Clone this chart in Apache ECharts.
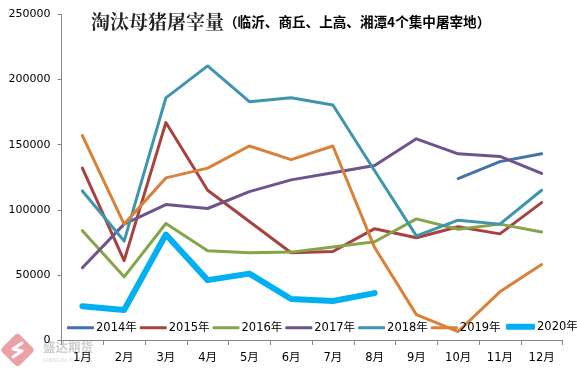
<!DOCTYPE html>
<html><head><meta charset="utf-8">
<style>html,body{margin:0;padding:0;background:#fff}#c{width:577px;height:374px}</style>
<script src="https://cdn.jsdelivr.net/npm/echarts@6/dist/echarts.min.js"></script>
</head><body><div id="c"></div>
<script>
const months = ['1月','2月','3月','4月','5月','6月','7月','8月','9月','10月','11月','12月'];
const y2014 = [null,null,null,null,null,null,null,null,null,124000,137000,143000];
const y2015 = [132000,61000,167000,115000,91000,67000,68000,85500,78500,87000,81500,105500];
const y2016 = [84000,48500,89500,68500,67000,67500,71500,75500,93000,85000,89000,83000];
const y2017 = [55500,89000,104000,101000,114000,123000,128500,134000,154500,143000,141000,128000];
const y2018 = [114500,76000,186000,210500,183000,186000,180500,130000,80000,92000,89000,115000];
const y2019 = [157000,89000,124500,132000,149000,138500,149000,71000,19500,6500,37000,58000];
const y2020 = [26000,23000,81000,46000,51000,31500,30000,36000,null,null,null,null];
const font = '"DejaVu Sans","Noto Sans CJK SC",sans-serif';
const mk = (name,data,color,w)=>({name,type:'line',data,symbol:'none',smooth:false,connectNulls:false,
  lineStyle:{color,width:w,cap:'round',join:'round'},itemStyle:{color},z:w>4?4:3});
const legendText = {fontFamily:font,fontSize:11.5,color:'#000',padding:[0,0,0,-3]};
const chart = echarts.init(document.getElementById('c'),null,{renderer:'canvas'});
chart.setOption({
  animation:false,backgroundColor:'#fff',
  grid:{left:61.5,right:14.5,top:14.5,bottom:34,containLabel:false},
  title:{left:91,top:12,padding:0,
    text:'{a|淘汰母猪屠宰量}{b|（临沂、商丘、上高、湘潭4个集中屠宰地）}',
    textStyle:{rich:{
      a:{fontFamily:'"Noto Serif CJK SC","Noto Sans CJK SC",serif',fontSize:19,fontWeight:'bold',color:'#222'},
      b:{fontFamily:'"Noto Sans CJK SC",sans-serif',fontSize:13.6,fontWeight:'bold',color:'#000'}}}},
  legend:[
    {left:67,top:322,padding:0,itemGap:3,itemWidth:27,itemHeight:3,icon:'roundRect',textStyle:legendText,
     data:['2014年','2015年','2016年','2017年','2018年','2019年']},
    {left:506,top:321,padding:0,itemWidth:29,itemHeight:6,icon:'roundRect',textStyle:legendText,
     data:['2020年']}
  ],
  xAxis:{type:'category',data:months,boundaryGap:true,
    axisLine:{lineStyle:{color:'#868686',width:1}},
    axisTick:{show:true,length:5,inside:false,alignWithLabel:false,lineStyle:{color:'#868686'}},
    axisLabel:{fontFamily:font,fontSize:11.5,color:'#000',margin:12.5,interval:0},splitLine:{show:false}},
  yAxis:{type:'value',min:0,max:250000,interval:50000,
    axisLine:{show:true,lineStyle:{color:'#868686',width:1}},
    axisTick:{show:true,length:4,lineStyle:{color:'#868686'}},
    axisLabel:{fontFamily:font,fontSize:11,color:'#000',margin:11,formatter:v=>String(v)},splitLine:{show:false}},
  series:[
    mk('2014年',y2014,'#4172a8',3),
    mk('2015年',y2015,'#a8423f',3),
    mk('2016年',y2016,'#86a44a',3),
    mk('2017年',y2017,'#6e548d',3),
    mk('2018年',y2018,'#3d96ae',3),
    mk('2019年',y2019,'#da8137',3),
    mk('2020年',y2020,'#00b0f0',6)
  ],
  graphic:[
    {type:'rect',x:17.5,y:350,rotation:Math.PI/4,
      shape:{x:-12.5,y:-12.5,width:25,height:25,r:4},style:{fill:'#eba2a6'},silent:true,z:0},
    {type:'polyline',shape:{points:[[22,343],[13,349],[22,351],[13,357]]},
      style:{stroke:'#fff',lineWidth:3,fill:'none',lineCap:'round',lineJoin:'round'},silent:true,z:0},
    {type:'text',x:43,y:341,style:{text:'盛达期货',fontFamily:'"Noto Sans CJK SC"',fontSize:12.5,fontWeight:'bold',fill:'#cfcfcf'},silent:true,z:0},
    {type:'text',x:43,y:358,style:{text:'SHENGDA FUTURES',fontFamily:'"DejaVu Sans"',fontSize:5,fill:'#d8d8d8'},silent:true,z:0}
  ]
});
</script></body></html>
